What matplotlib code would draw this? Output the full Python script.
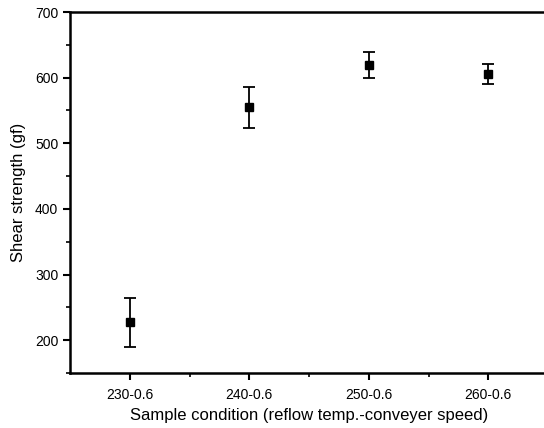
import matplotlib.pyplot as plt
import numpy as np

plt.rcParams['font.family'] = ['Liberation Sans', 'DejaVu Sans']

conditions = ["230-0.6", "240-0.6", "250-0.6", "260-0.6"]
strength = [227, 555, 619, 606]
err = [37, 31, 20, 15]

fig = plt.figure(figsize=(5.44, 4.28), dpi=100)
ax = fig.add_axes([70 / 544, 1 - 373 / 428, 478 / 544, 361 / 428])

x = np.arange(len(conditions))
ax.errorbar(x, strength, yerr=err, fmt='s', color='black', ms=6,
            elinewidth=1.3, capsize=4, capthick=1.3)

ax.set_xlim(-0.5, 3.5)
ax.set_ylim(150, 700)
ax.set_xticks(x)
ax.set_xticklabels(conditions)
ax.set_xticks(x[:-1] + 0.5, minor=True)
ax.set_yticks(np.arange(200, 701, 100))
ax.set_yticks(np.arange(150, 701, 100), minor=True)

ax.spines['right'].set_visible(False)
for s in ['left', 'bottom', 'top']:
    ax.spines[s].set_linewidth(1.8)

ax.tick_params(which='major', direction='out', length=5, width=1.5, labelsize=10)
ax.tick_params(which='minor', direction='out', length=3, width=1.2)
ax.tick_params(axis='x', pad=6)

ax.set_xlabel("Sample condition (reflow temp.-conveyer speed)", fontsize=12, labelpad=4)
ax.set_ylabel("Shear strength (gf)", fontsize=12, labelpad=6)

fig.savefig("out.png", dpi=100)
